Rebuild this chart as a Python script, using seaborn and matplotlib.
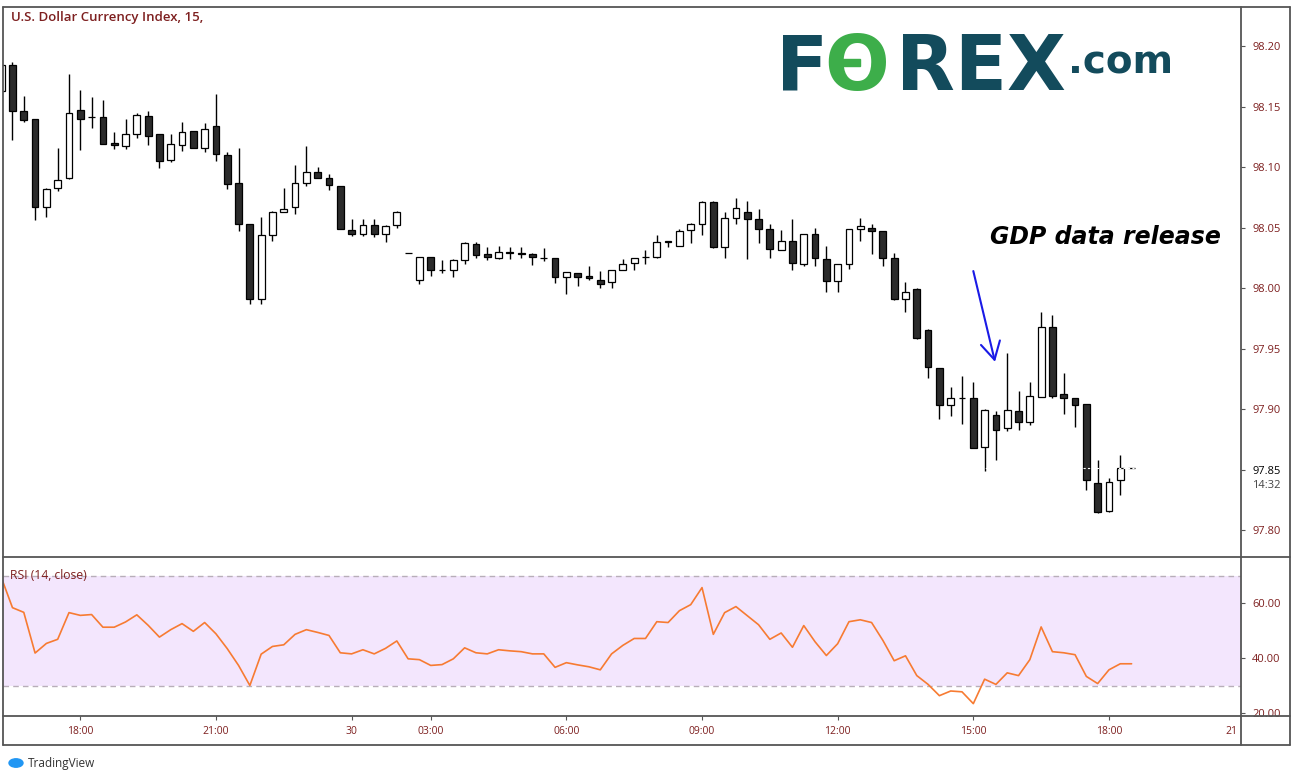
import numpy as np
import pandas as pd
import matplotlib
matplotlib.use("Agg")
import matplotlib.pyplot as plt
import seaborn as sns
from matplotlib.lines import Line2D
from matplotlib.patches import Circle, Rectangle

# ---------------- data ----------------
opens = [98.163, 98.184, 98.146, 98.140, 98.067, 98.083, 98.091, 98.147, 98.141, 98.141,
         98.120, 98.117, 98.127, 98.142, 98.127, 98.106, 98.118, 98.130, 98.116, 98.134,
         98.110, 98.087, 98.053, 97.991, 98.044, 98.063, 98.067, 98.087, 98.096, 98.091,
         98.084, 98.048, 98.045, 98.052, 98.045, 98.052, 98.029, 98.007, 98.026, 98.015,
         98.015, 98.023, 98.036, 98.028, 98.025, 98.030, 98.029, 98.028, 98.025, 98.025,
         98.009, 98.012, 98.010, 98.007, 98.005, 98.015, 98.021, 98.026, 98.026, 98.039,
         98.035, 98.048, 98.053, 98.071, 98.034, 98.058, 98.063, 98.057, 98.049, 98.031,
         98.039, 98.020, 98.045, 98.024, 98.006, 98.020, 98.049, 98.050, 98.047, 98.025,
         97.991, 97.999, 97.965, 97.934, 97.903, 97.909, 97.909, 97.869, 97.895, 97.884,
         97.898, 97.889, 97.910, 97.968, 97.912, 97.909, 97.904, 97.839, 97.816, 97.841,
         97.851]
highs = [98.185, 98.187, 98.159, 98.140, 98.083, 98.116, 98.177, 98.164, 98.158, 98.155,
         98.129, 98.140, 98.145, 98.146, 98.127, 98.127, 98.137, 98.130, 98.136, 98.160,
         98.112, 98.116, 98.053, 98.059, 98.064, 98.083, 98.102, 98.117, 98.100, 98.094,
         98.084, 98.057, 98.057, 98.057, 98.052, 98.064, 98.029, 98.026, 98.026, 98.023,
         98.024, 98.038, 98.038, 98.034, 98.035, 98.034, 98.034, 98.029, 98.033, 98.025,
         98.013, 98.012, 98.018, 98.014, 98.015, 98.024, 98.025, 98.031, 98.044, 98.039,
         98.049, 98.054, 98.072, 98.072, 98.063, 98.074, 98.072, 98.065, 98.053, 98.048,
         98.057, 98.045, 98.050, 98.035, 98.020, 98.049, 98.058, 98.053, 98.047, 98.029,
         98.005, 98.000, 97.966, 97.934, 97.918, 97.927, 97.922, 97.900, 97.898, 97.946,
         97.915, 97.922, 97.980, 97.978, 97.930, 97.909, 97.904, 97.858, 97.843, 97.862,
         97.851]
lows = [98.162, 98.122, 98.137, 98.056, 98.059, 98.080, 98.090, 98.114, 98.132, 98.119,
        98.115, 98.115, 98.124, 98.118, 98.099, 98.104, 98.113, 98.116, 98.112, 98.105,
        98.082, 98.047, 97.987, 97.987, 98.039, 98.063, 98.061, 98.084, 98.091, 98.081,
        98.049, 98.043, 98.043, 98.042, 98.038, 98.050, 98.029, 98.003, 98.010, 98.012,
        98.009, 98.020, 98.025, 98.023, 98.024, 98.024, 98.025, 98.019, 98.022, 98.004,
        97.995, 98.002, 98.007, 98.000, 98.000, 98.015, 98.015, 98.020, 98.025, 98.034,
        98.035, 98.037, 98.044, 98.033, 98.025, 98.053, 98.024, 98.037, 98.025, 98.031,
        98.015, 98.018, 98.018, 97.997, 97.997, 98.016, 98.039, 98.028, 98.018, 97.990,
        97.980, 97.958, 97.926, 97.892, 97.894, 97.888, 97.868, 97.849, 97.858, 97.882,
        97.883, 97.887, 97.910, 97.909, 97.896, 97.885, 97.833, 97.814, 97.815, 97.829,
        97.851]
closes = [98.184, 98.146, 98.139, 98.067, 98.082, 98.089, 98.145, 98.140, 98.141, 98.119,
          98.118, 98.127, 98.143, 98.126, 98.105, 98.119, 98.129, 98.116, 98.131, 98.111,
          98.086, 98.053, 97.991, 98.044, 98.063, 98.065, 98.087, 98.096, 98.091, 98.085,
          98.049, 98.045, 98.052, 98.045, 98.051, 98.063, 98.029, 98.026, 98.015, 98.015,
          98.023, 98.037, 98.027, 98.026, 98.030, 98.029, 98.028, 98.026, 98.025, 98.009,
          98.013, 98.009, 98.008, 98.003, 98.015, 98.020, 98.025, 98.026, 98.038, 98.038,
          98.047, 98.053, 98.071, 98.034, 98.058, 98.066, 98.057, 98.049, 98.032, 98.039,
          98.021, 98.045, 98.025, 98.006, 98.020, 98.049, 98.051, 98.047, 98.025, 97.991,
          97.997, 97.959, 97.935, 97.903, 97.909, 97.909, 97.868, 97.899, 97.883, 97.899,
          97.889, 97.911, 97.968, 97.911, 97.909, 97.903, 97.841, 97.815, 97.840, 97.851,
          97.851]
rsi_values = [69.4, 58.3, 56.6, 41.8, 45.3, 46.8, 56.5, 55.5, 55.8, 51.2,
              51.2, 53.1, 55.7, 51.9, 47.6, 50.3, 52.5, 49.7, 52.9, 48.8,
              43.4, 37.3, 30.0, 41.4, 44.2, 44.8, 48.6, 50.3, 49.3, 48.2,
              41.9, 41.5, 43.0, 41.5, 43.5, 46.2, 39.7, 39.4, 37.3, 37.6,
              39.7, 43.7, 41.9, 41.5, 43.0, 42.6, 42.3, 41.5, 41.5, 36.6,
              38.3, 37.5, 36.8, 35.7, 41.5, 44.6, 47.1, 47.1, 53.2, 52.9,
              57.2, 59.4, 65.6, 48.6, 56.5, 58.7, 55.4, 52.1, 46.8, 49.1,
              43.9, 51.8, 45.9, 40.9, 45.2, 53.2, 53.9, 52.9, 46.4, 39.0,
              40.8, 33.6, 30.4, 26.3, 28.0, 27.7, 23.4, 32.3, 30.4, 34.6,
              33.6, 39.4, 51.3, 42.3, 41.9, 41.2, 33.3, 30.7, 35.7, 37.9,
              37.9]
time_tick_pos = [7, 19, 31, 38, 50, 62, 74, 86, 98]
time_tick_labels = ["18:00", "21:00", "30", "03:00", "06:00", "09:00", "12:00", "15:00", "18:00"]
price_ticks = [97.80, 97.85, 97.90, 97.95, 98.00, 98.05, 98.10, 98.15, 98.20]
rsi_ticks = [20, 40, 60]
rsi_upper, rsi_lower = 70, 30
last_price = 97.851

# ---------------- style ----------------
W, H = 1298, 781
sns.set_theme(style="white")
plt.rcParams['font.family'] = ['Open Sans', 'DejaVu Sans']

MAROON = '#7d1f1f'
FRAME = '#555555'

fig = plt.figure(figsize=(W / 100, H / 100), dpi=100)


def fx(px):
    return px / W


def fy(py):
    return 1 - py / H


L, R = 3, 1241
T, SEP, BOT, AXB, RIGHT = 7, 557, 716, 745, 1290

ax = fig.add_axes([fx(L), fy(SEP), fx(R - L), fy(T) - fy(SEP)])
ax2 = fig.add_axes([fx(L), fy(BOT), fx(R - L), fy(SEP + 1) - fy(BOT)], sharex=ax)
for a in (ax, ax2):
    a.set_facecolor('white')
    for s in a.spines.values():
        s.set_visible(False)

df = pd.DataFrame({'o': opens, 'h': highs, 'l': lows, 'c': closes, 'rsi': rsi_values})
df['i'] = np.arange(len(df))
up = df['c'] >= df['o']

# candles
ax.vlines(df['i'], df['l'], df['h'], color='black', lw=1.0, zorder=2)
ax.bar(df['i'], (df['c'] - df['o']).abs(), bottom=np.minimum(df['o'], df['c']),
       width=0.6, color=np.where(up, 'white', '#2b2b2b'), edgecolor='black',
       linewidth=0.9, zorder=3)
ax.axhline(last_price, color='white', ls=(0, (2, 2)), lw=0.8, zorder=4)

x_left = (L - 1.17) / 11.304
x_right = (R - 1.17) / 11.304
ax.set_xlim(x_left, x_right)
ax.set_ylim(98.2 - (SEP - 46) / 1210, 98.2 + (46 - T) / 1210)

ax.yaxis.tick_right()
ax.set_yticks(price_ticks)
ax.set_yticklabels([f"{p:.2f}" for p in price_ticks])
ax.tick_params(axis='y', which='both', right=True, left=False, direction='out', length=3,
               width=0.8, color=FRAME, labelcolor=MAROON, labelsize=8, pad=5)
ax.tick_params(axis='x', bottom=False, labelbottom=False)
for lab in ax.get_yticklabels():
    if lab.get_text() == f"{last_price:.2f}":
        lab.set_color('black')

# annotation
ax.annotate('', xy=(87.92, 97.939), xytext=(86.0, 98.014),
            arrowprops=dict(arrowstyle='->,head_length=0.9,head_width=0.5',
                            color='#1a1ae6', lw=1.5, mutation_scale=14, shrinkA=0, shrinkB=0))
fig.text(fx(990), fy(237), 'GDP data release', family='DejaVu Sans', fontweight='bold',
         fontstyle='italic', fontsize=17, color='black', ha='left', va='center')

# RSI
ax2.axhspan(rsi_lower, rsi_upper, color='#f3e6fd', zorder=0, lw=0)
ax2.axhline(rsi_upper, color='#b8aeb9', ls=(0, (4, 3)), lw=1.0, zorder=1)
ax2.axhline(rsi_lower, color='#b8aeb9', ls=(0, (4, 3)), lw=1.0, zorder=1)
sns.lineplot(data=df, x='i', y='rsi', ax=ax2, color='#f77b32', linewidth=1.2, zorder=3,
             legend=False)
ax2.set_ylim(60 - (BOT - 603) / 2.75, 60 + (603 - SEP - 1) / 2.75)
ax2.yaxis.tick_right()
ax2.set_yticks(rsi_ticks)
ax2.set_yticklabels([f"{v:.2f}" for v in rsi_ticks])
ax2.tick_params(axis='y', which='both', right=True, left=False, direction='out', length=3,
                width=0.8, color=FRAME, labelcolor=MAROON, labelsize=8, pad=5)
ax2.set_xticks(time_tick_pos)
ax2.set_xticklabels(time_tick_labels)
ax2.tick_params(axis='x', bottom=True, direction='out', length=3, width=0.8, color=FRAME,
                labelcolor=MAROON, labelsize=7.5, pad=4)
ax2.set_xlabel('')
ax2.set_ylabel('')
ax.set_xlabel('')
ax.set_ylabel('')
ax2.text(0.006, 70, 'RSI (14, close)', transform=ax2.get_yaxis_transform(), color=MAROON,
         fontsize=8.7, ha='left', va='center', zorder=5)

# frame lines
segs = [((L, T), (RIGHT, T)), ((L, T), (L, AXB)), ((RIGHT, T), (RIGHT, AXB)),
        ((L, AXB), (RIGHT, AXB)), ((R, T), (R, AXB)), ((L, SEP), (RIGHT, SEP)),
        ((L, BOT), (RIGHT, BOT))]
for (x0, y0), (x1, y1) in segs:
    fig.add_artist(Line2D([fx(x0), fx(x1)], [fy(y0), fy(y1)], transform=fig.transFigure,
                          color=FRAME, lw=1.3, zorder=10))

# texts
fig.text(fx(11), fy(18), 'U.S. Dollar Currency Index, 15,', color=MAROON, fontsize=9.5,
         fontweight='semibold', ha='left', va='center')
fig.text(fx(1237), fy(731), '21', color=MAROON, fontsize=7.5, ha='right', va='center')
fig.text(fx(1252), fy(486), '14:32', color='#444444', fontsize=8, ha='left', va='center')

# logo
TEAL = '#134b5c'
GREEN = '#3dae4a'
lk = dict(family='DejaVu Sans', fontweight='bold', fontsize=55, va='baseline', ha='left')
fig.text(fx(776), fy(90), 'F', color=TEAL, **lk)
fig.text(fx(824), fy(90), 'O', color=GREEN, **lk)
fig.text(fx(896), fy(90), 'REX', color=TEAL, **lk)
fig.add_artist(Rectangle((fx(834), fy(66)), fx(26), fy(59) - fy(66), transform=fig.transFigure,
                         color=GREEN, zorder=11))
fig.text(fx(1068), fy(74), '.com', color=TEAL, family='DejaVu Sans', fontweight='bold',
         fontsize=28, va='baseline', ha='left')

# TradingView footer
fig.add_artist(Circle((fx(16), fy(763)), 7 / W, transform=fig.transFigure, color='#2196f3'))
fig.text(fx(28), fy(763), 'TradingView', color='#333333', fontsize=8.5, ha='left', va='center')

fig.savefig('out.png', dpi=100)
